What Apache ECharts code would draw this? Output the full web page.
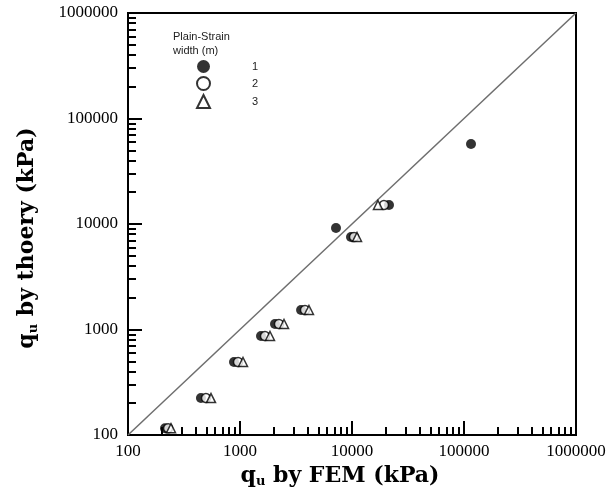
<!DOCTYPE html>
<html><head><meta charset="utf-8">
<script src="https://cdn.jsdelivr.net/npm/echarts@6/dist/echarts.min.js"></script>
<style>html,body{margin:0;padding:0;background:#fff}#c{width:614px;height:495px}</style>
</head><body><div id="c"></div>
<script>
// ---- data ----
var theory  = [116, 224, 492, 867, 1127, 1531, 9160, 7535, 15140, 57300];
var femW1   = [214, 448, 884, 1540, 2053, 3509, 7194, 9795, 21400, 115500];
var femW2   = [228, 497, 960, 1671, 2228, 3805, null, 10425, 19300, null];
var femW3   = [242, 551, 1064, 1853, 2472, 4128, null, 11090, 17060, null];
var seriesNames = ['1', '2', '3'];
var diagonal = [100, 1000000];
var majorTicks = [100, 1000, 10000, 100000, 1000000];
var minorTicks = [200,300,400,500,600,700,800,900,
                  2000,3000,4000,5000,6000,7000,8000,9000,
                  20000,30000,40000,50000,60000,70000,80000,90000,
                  200000,300000,400000,500000,600000,700000,800000,900000];

function pairs(xs, ys){
  var out = [];
  for (var i = 0; i < xs.length; i++) { if (xs[i] != null) out.push([xs[i], ys[i]]); }
  return out;
}
function plain(v){ return String(Math.round(v)); }

var serif = 'Liberation Serif';
var titleFont = 'DejaVu Serif';
var nameRich = {
  a: {fontFamily: titleFont, fontWeight: 'bold', fontSize: 22, color: '#000'},
  b: {fontFamily: titleFont, fontWeight: 'bold', fontSize: 13, color: '#000', padding: [12, 0, 0, 0]}
};

function majorAxis(extra){
  var ax = {
    type: 'log', logBase: 10, min: 100, max: 1000000,
    axisLine: {show: true, lineStyle: {color: '#000', width: 2}},
    axisTick: {show: true, inside: true, length: 14, lineStyle: {color: '#000', width: 2}, customValues: majorTicks},
    splitLine: {show: false},
    minorTick: {show: false}
  };
  for (var k in extra) ax[k] = extra[k];
  return ax;
}
function minorAxis(pos){
  return {
    type: 'log', logBase: 10, min: 100, max: 1000000, position: pos,
    axisLine: {show: false},
    axisTick: {show: true, inside: true, length: 8, lineStyle: {color: '#000', width: 2}, customValues: minorTicks},
    axisLabel: {show: false},
    splitLine: {show: false}
  };
}

var chart = echarts.init(document.getElementById('c'), null, {renderer: 'canvas'});
chart.setOption({
  animation: false,
  backgroundColor: '#fff',
  grid: {left: 128, right: 38, top: 13, bottom: 60, show: true, borderColor: '#000', borderWidth: 2, backgroundColor: 'transparent'},
  title: {
    text: 'Plain-Strain\nwidth (m)', left: 168, top: 25,
    textStyle: {fontFamily: 'Liberation Sans', fontSize: 11, fontWeight: 'normal', color: '#222', lineHeight: 14}
  },
  legend: {
    orient: 'vertical', left: 196, top: 60, padding: 0,
    itemWidth: 13, itemHeight: 13, itemGap: 3,
    data: seriesNames,
    textStyle: {fontFamily: 'Liberation Sans', fontSize: 11, color: '#222', padding: [0, 0, 0, 37]}
  },
  xAxis: [
    majorAxis({position: 'bottom',
      axisLabel: {show: true, customValues: majorTicks, formatter: plain, fontFamily: serif, fontSize: 17, color: '#000', margin: 8},
      name: '{a|q}{b|u}{a| by FEM (kPa)}', nameLocation: 'middle', nameGap: 23,
      nameTextStyle: {rich: nameRich, padding: [0, 24, 0, 0]}}),
    minorAxis('bottom')
  ],
  yAxis: [
    majorAxis({position: 'left',
      axisLabel: {show: true, customValues: majorTicks, formatter: plain, fontFamily: serif, fontSize: 17, color: '#000', margin: 10},
      name: '{a|q}{b|u}{a| by thoery (kPa)}', nameLocation: 'middle', nameGap: 88, nameRotate: 90,
      nameTextStyle: {rich: nameRich, padding: [0, 28, 0, 0]}}),
    minorAxis('left')
  ],
  series: [
    {type: 'line', data: [[diagonal[0], diagonal[0]], [diagonal[1], diagonal[1]]], showSymbol: false, symbol: 'none',
     lineStyle: {color: '#6e6e6e', width: 1.5}, silent: true, z: 1},
    {name: seriesNames[0], type: 'scatter', data: pairs(femW1, theory), symbol: 'circle', symbolSize: 10,
     itemStyle: {color: '#000', borderColor: '#000', borderWidth: 0}, z: 2},
    {name: seriesNames[1], type: 'scatter', data: pairs(femW2, theory), symbol: 'circle', symbolSize: 9,
     itemStyle: {color: '#fff', borderColor: '#000', borderWidth: 1.5}, z: 3},
    {name: seriesNames[2], type: 'scatter', data: pairs(femW3, theory), symbol: 'triangle', symbolSize: 9,
     itemStyle: {color: '#fff', borderColor: '#000', borderWidth: 1.5}, z: 4}
  ]
});
</script></body></html>
